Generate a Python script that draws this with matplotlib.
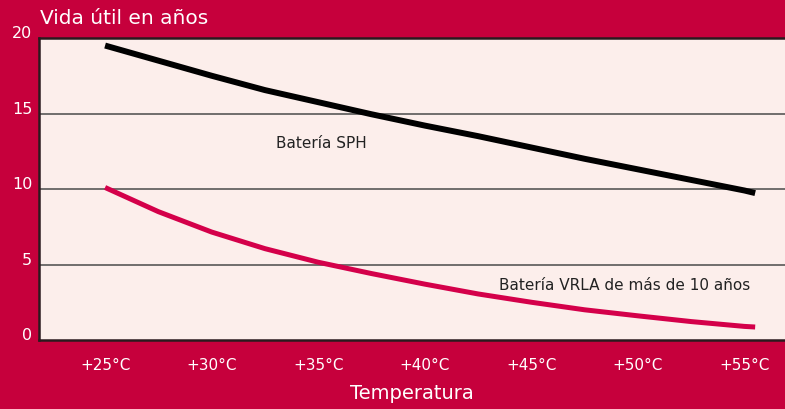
import matplotlib.pyplot as plt

# Data
temps = [25, 27.5, 30, 32.5, 35, 37.5, 40, 42.5, 45, 47.5, 50, 52.5, 55, 55.5]
sph_years = [19.5, 18.5, 17.5, 16.55, 15.75, 14.95, 14.2, 13.5, 12.75, 12.0, 11.3, 10.6, 9.9, 9.73]
vrla_years = [10.1, 8.5, 7.15, 6.05, 5.15, 4.4, 3.7, 3.05, 2.5, 2.0, 1.6, 1.22, 0.9, 0.86]

tick_temps = [25, 30, 35, 40, 45, 50, 55]
tick_labels = ['+25°C', '+30°C', '+35°C', '+40°C', '+45°C', '+50°C', '+55°C']
y_ticks = [0, 5, 10, 15, 20]

bg = '#C6003C'
panel = '#FCEEEB'
red = '#D4004A'

fig = plt.figure(figsize=(7.85, 4.10), dpi=100, facecolor=bg)
ax = fig.add_axes([39 / 785, 69 / 410, 1 - 39 / 785, 302 / 410])
ax.set_facecolor(panel)

for y in y_ticks[1:-1]:
    ax.axhline(y, color='#4a4a4a', lw=1.1, zorder=1)

ax.plot(temps, sph_years, color='black', lw=4.3, solid_capstyle='butt',
        solid_joinstyle='round', zorder=3)
ax.plot(temps, vrla_years, color=red, lw=3.6, solid_capstyle='butt',
        solid_joinstyle='round', zorder=3)

ax.set_xlim(21.9, 56.9)
ax.set_ylim(0, 20)

ax.set_xticks(tick_temps)
ax.set_xticklabels(tick_labels, color='white', fontsize=11)
ax.tick_params(axis='x', length=0, pad=12)
ax.set_yticks([])

for y in y_ticks:
    ax.text(-0.009, y - 0.15, str(y), transform=ax.get_yaxis_transform(), ha='right', va='bottom',
            color='white', fontsize=11.5)

for side in ['top', 'left', 'bottom']:
    ax.spines[side].set_color('#2a1a1e')
    ax.spines[side].set_linewidth(1.8)
ax.spines['right'].set_visible(False)

ax.set_xlabel('Temperatura', color='white', fontsize=14, labelpad=8)
fig.text(40 / 785, 1 - 19 / 410, 'Vida útil en años', color='white', fontsize=14.5, va='center')

ax.text(33.0, 13.1, 'Batería SPH', fontsize=11, color='#222222', va='center')
ax.text(43.5, 3.7, 'Batería VRLA de más de 10 años', fontsize=11, color='#222222', va='center')

fig.savefig('out.png', dpi=100, facecolor=bg)
